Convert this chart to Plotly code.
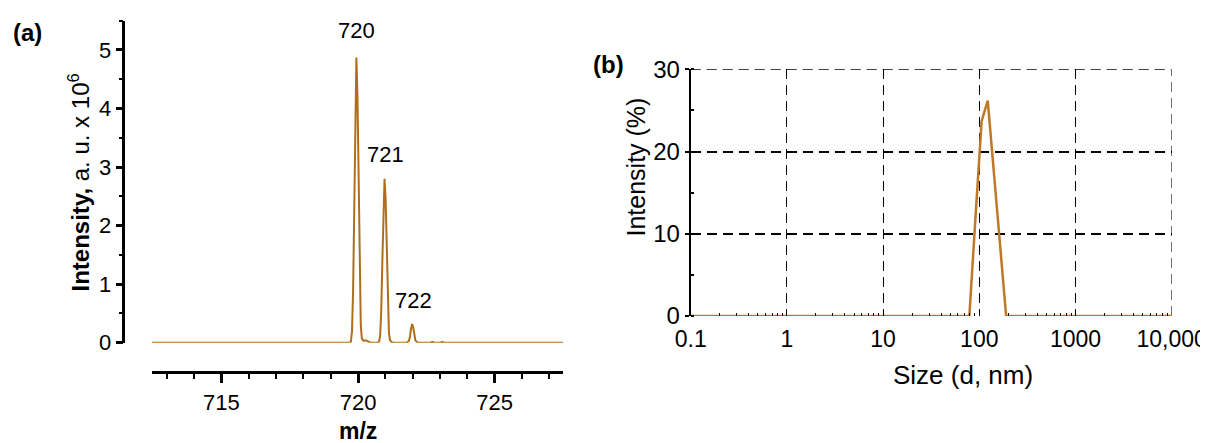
import plotly.graph_objects as go

# The page body adds an 8px margin, so the figure is drawn 8px smaller and
# all reference pixel positions are shifted by that offset.
OFF = 8
W, H = 1208 - OFF, 443 - OFF

# ---------------- Panel (a): mass spectrum ----------------
mz = [712.45, 719.70, 719.74, 719.78, 719.82, 719.86, 719.90, 719.94, 719.98, 720.02,
      720.06, 720.10, 720.14, 720.20, 720.28, 720.36, 720.46,
      720.73, 720.77, 720.81, 720.85, 720.89, 720.93, 720.97, 721.01, 721.05,
      721.09, 721.13, 721.17, 721.23, 721.30,
      721.78, 721.86, 721.90, 721.94, 721.98, 722.02, 722.06, 722.10, 722.16, 722.25,
      722.65, 722.72, 722.80, 723.02, 723.08, 723.15, 727.50]
intensity_a = [0.0, 0.0, 0.02, 0.2, 0.9, 2.4, 4.1, 4.87, 4.2, 2.6,
               1.1, 0.3, 0.07, 0.03, 0.04, 0.02, 0.0,
               0.0, 0.02, 0.12, 0.55, 1.4, 2.4, 2.80, 2.45, 1.5,
               0.62, 0.17, 0.04, 0.01, 0.0,
               0.0, 0.03, 0.1, 0.24, 0.32, 0.26, 0.12, 0.04, 0.01, 0.0,
               0.0, 0.015, 0.0, 0.0, 0.015, 0.0, 0.0]
peak_labels = ["720", "721", "722"]
peak_mz = [719.94, 720.97, 721.98]
peak_int = [4.87, 2.80, 0.32]
a_xticks = [715, 720, 725]
a_yticks = [0, 1, 2, 3, 4, 5]

# ---------------- Panel (b): DLS size distribution ----------------
size_nm = [0.1, 1, 10, 68.06, 78.82, 91.28, 105.7, 122.4, 141.8, 164.2, 190.1, 220.2, 1000, 10000]
intensity_b = [0, 0, 0, 0, 0, 12.0, 23.7, 26.2, 17.5, 8.7, 0, 0, 0, 0]
b_xtickvals = [0.1, 1, 10, 100, 1000, 10000]
b_xticktext = ["0.1", "1", "10", "100", "1000", "10,000"]
b_xminor = [k * d for d in b_xtickvals[:-1] for k in range(2, 10)]
b_yticks = [0, 10, 20, 30]

FONT = "Liberation Sans, Arial, sans-serif"
col_a = "rgb(176,110,28)"
col_b = "rgb(190,120,40)"
DASH = "10px,6px"


def px(x):
    return (x - OFF) / W


def py(y):
    return 1 - (y - OFF) / H


fig = go.Figure()
fig.add_trace(go.Scatter(x=mz, y=intensity_a, mode="lines",
                         line=dict(color=col_a, width=2), xaxis="x", yaxis="y",
                         showlegend=False, hoverinfo="skip"))
fig.add_trace(go.Scatter(x=size_nm, y=intensity_b, mode="lines",
                         line=dict(color=col_b, width=2.5), xaxis="x2", yaxis="y2",
                         showlegend=False, hoverinfo="skip"))

fig.update_layout(
    width=W, height=H,
    margin=dict(l=0, r=0, t=0, b=0, autoexpand=False),
    paper_bgcolor="white", plot_bgcolor="white",
    font=dict(family=FONT, color="black"),
    xaxis=dict(domain=[px(151.7), px(563)], range=[712.45, 727.5],
               anchor="free", position=py(372.3),
               showline=True, linecolor="black", linewidth=3,
               ticks="outside", ticklen=9, tickwidth=2.5, tickcolor="black",
               tickvals=a_xticks, tickfont=dict(size=22),
               minor=dict(ticks="outside", ticklen=5, tickwidth=2, tickcolor="black", dtick=1),
               showgrid=False, zeroline=False),
    yaxis=dict(domain=[py(342.7), py(20.7)], range=[0, 5.5],
               anchor="free", position=px(123.3),
               showline=True, linecolor="black", linewidth=2.5,
               ticks="outside", ticklen=7, tickwidth=2.5, tickcolor="black",
               tickvals=a_yticks, tickfont=dict(size=22),
               minor=dict(ticks="outside", ticklen=4, tickwidth=2, tickcolor="black", dtick=0.5),
               showgrid=False, zeroline=False),
    xaxis2=dict(domain=[px(690.7), px(1171.7)], type="log", range=[-1, 4],
                anchor="y2", showline=False,
                ticks="inside", ticklen=4, tickwidth=1, tickcolor="black",
                tickvals=b_xtickvals, ticktext=b_xticktext, tickfont=dict(size=23),
                ticklabeloverflow="allow", ticklabelstandoff=7,
                minor=dict(ticks="inside", ticklen=3, tickwidth=1, tickcolor="black",
                           tickmode="array", tickvals=b_xminor, showgrid=False),
                showgrid=True, gridcolor="black", gridwidth=1, griddash=DASH,
                zeroline=False),
    yaxis2=dict(domain=[py(316), py(69.3)], range=[0, 30],
                anchor="x2", showline=True, linecolor="black", linewidth=2,
                ticks="outside", ticklen=4, tickwidth=1.5, tickcolor="black",
                tickvals=b_yticks, tickfont=dict(size=24),
                minor=dict(ticks="inside", ticklen=3, tickwidth=1.5, tickcolor="black",
                           dtick=5, showgrid=False),
                showgrid=True, gridcolor="black", gridwidth=1.5, griddash=DASH,
                zeroline=False),
)

# grid lines at the range ends (plotly clips those)
fig.add_shape(type="line", xref="x2", yref="y2", x0=b_xtickvals[0], x1=b_xtickvals[-1],
              y0=b_yticks[-1], y1=b_yticks[-1], line=dict(color="black", width=1.5, dash=DASH),
              layer="below")
fig.add_shape(type="line", xref="x2", yref="y2", x0=b_xtickvals[-1], x1=b_xtickvals[-1],
              y0=b_yticks[0], y1=b_yticks[-1], line=dict(color="black", width=1, dash=DASH),
              layer="below")

ann = []
label_offsets_px = [(0, 27), (1, 24), (1, 23)]
for lab, xm, yi, (dx, dy) in zip(peak_labels, peak_mz, peak_int, label_offsets_px):
    ann.append(dict(x=xm, y=yi, xref="x", yref="y", text=lab, showarrow=False,
                    xanchor="center", yanchor="middle",
                    xshift=dx, yshift=dy, font=dict(size=22)))


def pann(x, y, text, size, angle=0):
    return dict(x=px(x), y=py(y), xref="paper", yref="paper", text=text,
                showarrow=False, xanchor="center", yanchor="middle",
                textangle=angle, font=dict(size=size))


ann += [
    pann(27, 32, "<b>(a)</b>", 24),
    pann(608, 64, "<b>(b)</b>", 24),
    pann(78, 182.5, "<b>Intensity,</b> a. u. x 10<sup>6</sup>", 24, -90),
    pann(358, 430.5, "<b>m/z</b>", 23),
    pann(635, 167.5, "Intensity (%)", 25, -90),
    pann(963, 375, "Size (d, nm)", 26),
]
fig.update_layout(annotations=ann)

fig.write_html("out.html")
